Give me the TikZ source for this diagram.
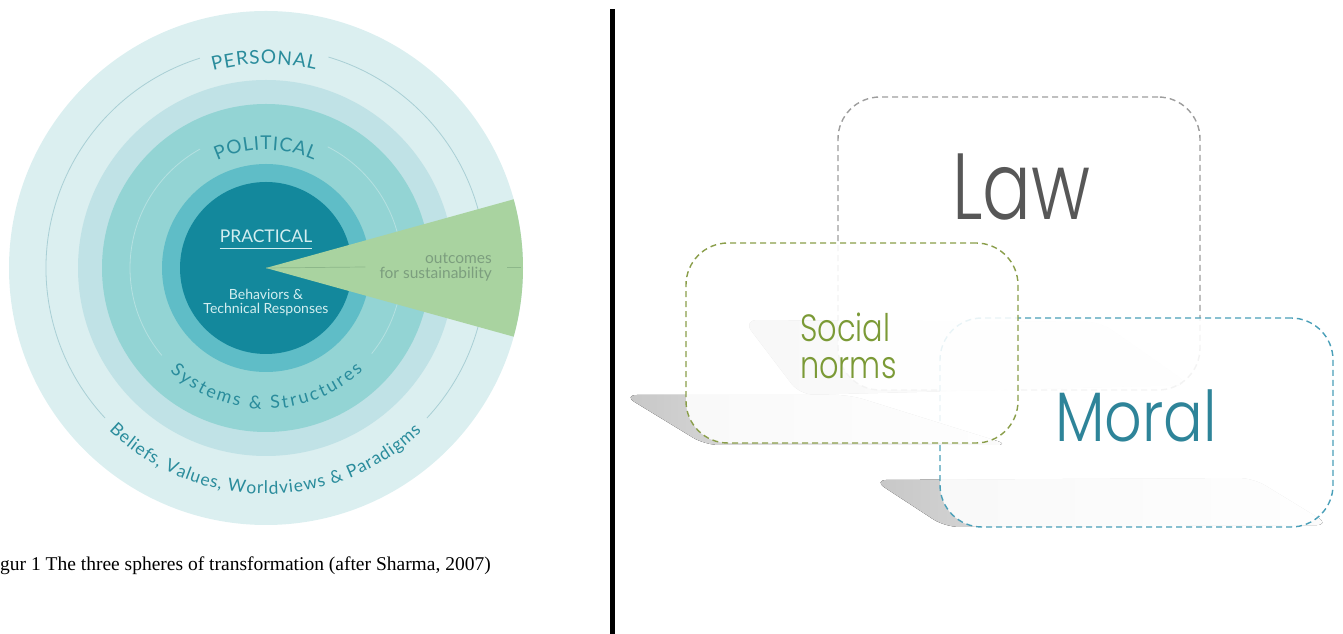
\documentclass[tikz,border=0pt]{standalone}
\usepackage{fontspec}
\usepackage{tikz}
\usetikzlibrary{positioning,calc,decorations.text}
\setmainfont{Liberation Serif}
\newfontfamily\labelfont{Lato}
\IfFontExistsTF{Poppins Light}{\newfontfamily\thinfont{Poppins Light}}{\newfontfamily\thinfont{Poppins}}
\newcommand\arcfont[1]{\labelfont\fontsize{#1}{#1}\selectfont}

\definecolor{ringA}{HTML}{DBEFF0}
\definecolor{ringB}{HTML}{C0E2E6}
\definecolor{ringC}{HTML}{93D4D4}
\definecolor{ringD}{HTML}{5FBDC7}
\definecolor{core}{HTML}{13889C}
\definecolor{arcA}{HTML}{A9CFD5}
\definecolor{arcC}{HTML}{B5E1E1}
\definecolor{wedgegreen}{HTML}{A9D3A0}
\definecolor{wedgeline}{HTML}{8DB78A}
\definecolor{tealtext}{HTML}{2A8C9C}
\definecolor{pale}{HTML}{D3EEF0}
\definecolor{outgreen}{HTML}{7C9E7E}
\definecolor{lawgray}{HTML}{9E9E9E}
\definecolor{lawtext}{HTML}{575757}
\definecolor{olive}{HTML}{8A9E4A}
\definecolor{olivetext}{HTML}{7B9A36}
\definecolor{moralblue}{HTML}{4A9FB8}
\definecolor{moraltext}{HTML}{2E8499}

\tikzset{
  thinarc/.style  = {line width=0.8pt},
  arclabel/.style = {decorate, decoration={text along path, text align=fit to path,
                     text color=tealtext}},
  normbox/.style  = {draw, dash pattern=on 6pt off 4pt, line width=1.4pt,
                     rounded corners=42pt, fill=white, fill opacity=0.88},
  dropshade/.style = {left color=black!22, right color=black!1, rounded corners=14pt,
                     draw=none},
  bigword/.style  = {anchor=base west, inner sep=0pt}
}

\begin{document}
\begin{tikzpicture}[x=1pt,y=1pt]
  \useasboundingbox (0,0) rectangle (1343,634);
  % spheres of transformation
  \coordinate (c) at (266,366);
  \fill[ringA] (c) circle[radius=257];
  \fill[ringB] (c) circle[radius=188];
  \fill[ringC] (c) circle[radius=164];
  \fill[ringD] (c) circle[radius=104];
  \fill[core] (c) circle[radius=86];
  \draw[thinarc, arcA] ([shift={(-43:220)}]c) arc[start angle=-43, end angle=73.5, radius=220];
  \draw[thinarc, arcA] ([shift={(107.5:220)}]c) arc[start angle=107.5, end angle=223, radius=220];
  \draw[thinarc, arcC] ([shift={(-39:136)}]c) arc[start angle=-39, end angle=63, radius=136];
  \draw[thinarc, arcC] ([shift={(119:136)}]c) arc[start angle=119, end angle=220, radius=136];
  \fill[wedgegreen] (c) -- ([shift={(15.5:257)}]c) arc[start angle=15.5, end angle=-15.5, radius=257] -- cycle;

  \path[arclabel, decoration={text={|\arcfont{19}|PERSONAL}}]
    ([shift={(105:204)}]c) arc[start angle=105, end angle=76, radius=204];
  \path[arclabel, decoration={text={|\arcfont{19}|POLITICAL}}]
    ([shift={(114.5:118)}]c) arc[start angle=114.5, end angle=66, radius=118];
  \path[arclabel, decoration={text={|\arcfont{18}|Systems {\&} Structures}}]
    ([shift={(-133:141)}]c) arc[start angle=-133, end angle=-46.5, radius=141];
  \path[arclabel, decoration={text={|\arcfont{17.5}|Beliefs, Values, Worldviews {\&} Paradigms}}]
    ([shift={(-134:226)}]c) arc[start angle=-134, end angle=-46.5, radius=226];

  \node[inner sep=0pt, text=pale, font=\labelfont\fontsize{17.5}{17.5}\selectfont] (prac) at (266,398) {PRACTICAL};
  \draw[pale, line width=1pt] ([yshift=-6pt]prac.south west) -- ([yshift=-6pt]prac.south east);
  \node[align=center, text=pale, inner sep=0pt, font=\labelfont\fontsize{14}{14}\selectfont] (beh) at (266,331)
    {Behaviors \&\\Technical Responses};
  \node[align=right, anchor=east, text=outgreen, inner sep=0pt, font=\labelfont\fontsize{15.5}{15}\selectfont] (out) at (492,367)
    {outcomes\\for sustainability};
  \draw[wedgeline, line width=0.7pt] (c) -- ([xshift=-14pt]out.west);
  \draw[wedgeline, line width=0.7pt] ([xshift=15pt]out.east) -- ([xshift=29pt]out.east);

  \node[bigword, font=\fontsize{19.5}{22}\selectfont] (cap) at (0,63)
    {gur 1 The three spheres of transformation (after Sharma, 2007)};

  % divider
  \fill[black] (610,0) rectangle (615,625);

  % law, moral, social norms
  \fill[dropshade] (743,314) -- (1100,312) -- (1190,249) -- (800,239) -- cycle;
  \node[normbox, draw=lawgray, minimum width=362pt, minimum height=293pt] (lawbox) at (1019,390.5) {};
  \fill[dropshade] (873,154) -- (1253,156) -- (1330,109) -- (945,107) -- cycle;
  \node[normbox, draw=moralblue, minimum width=393pt, minimum height=209pt] (moralbox) at (1136.5,211.5) {};
  \fill[dropshade] (623,239) -- (850,239) -- (1010,189) -- (705,189) -- cycle;
  \node[normbox, draw=olive, minimum width=332pt, minimum height=200pt] (socialbox) at (852,291) {};

  \node[bigword, text=lawtext, font=\thinfont\fontsize{94}{94}\selectfont] (law) at (952,414) {\scalebox{0.77}[1]{Law}};
  \node[bigword, text=moraltext, font=\thinfont\fontsize{70}{70}\selectfont] (moral) at (1055,192) {\scalebox{0.84}[1]{Moral}};
  \node[bigword, text=olivetext, font=\thinfont\fontsize{38}{38}\selectfont] (social) at (800,292) {\scalebox{0.8}[1]{Social}};
  \node[bigword, text=olivetext, font=\thinfont\fontsize{38}{38}\selectfont] (norms) at ([yshift=-37pt]social.base west) {\scalebox{0.8}[1]{norms}};
\end{tikzpicture}
\end{document}
